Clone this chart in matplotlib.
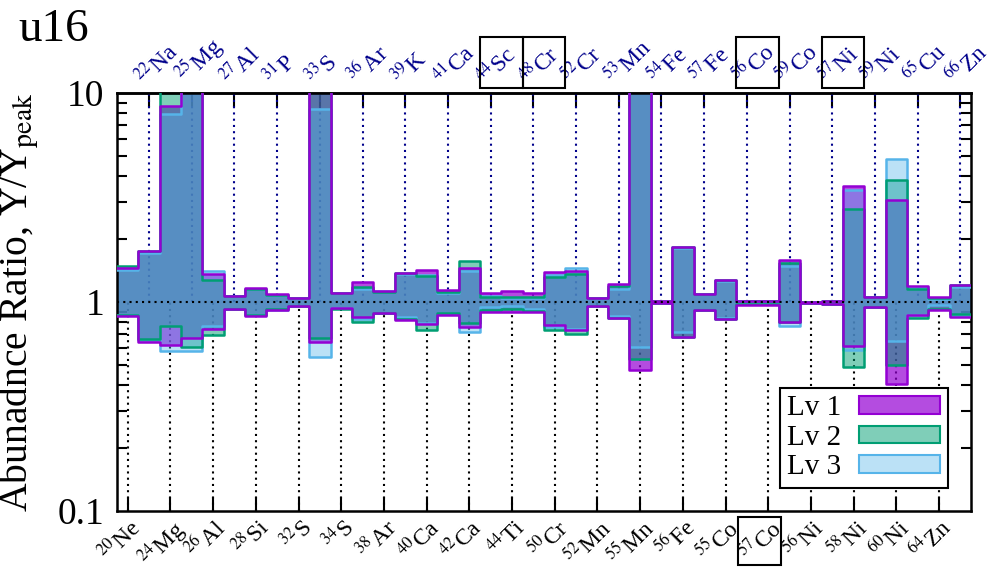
import re
import numpy as np
import matplotlib
matplotlib.use('Agg')
import matplotlib.pyplot as plt
from matplotlib.colors import to_rgba
from matplotlib.patches import Patch, Rectangle
import matplotlib.transforms as mtransforms

plt.rcParams['font.family'] = ['Liberation Serif', 'DejaVu Serif']
plt.rcParams['mathtext.fontset'] = 'stix'

# isotopes in plot order (even index -> bottom axis, odd index -> top axis)
isotopes = ['20Ne', '22Na', '24Mg', '25Mg', '26Al', '27Al', '28Si', '31P', '32S', '33S',
            '34S', '36Ar', '38Ar', '39K', '40Ca', '41Ca', '42Ca', '44Sc', '44Ti', '48Cr',
            '50Cr', '52Cr', '52Mn', '53Mn', '55Mn', '54Fe', '56Fe', '57Fe', '55Co', '56Co',
            '57Co', '59Co', '56Ni', '57Ni', '58Ni', '59Ni', '60Ni', '65Cu', '64Zn', '66Zn']
boxed = ['44Sc', '48Cr', '56Co', '57Ni', '57Co']

# Y/Y_peak ranges per level (values above 10 run off the top of the plot)
lv1_hi = [1.45, 1.76, 8.7, 15, 1.36, 1.07, 1.17, 1.09, 1.04, 15,
          1.10, 1.24, 1.13, 1.37, 1.43, 1.14, 1.45, 1.108, 1.13, 1.11,
          1.39, 1.41, 1.05, 1.22, 15, 1.01, 1.84, 1.09, 1.275, 1.015,
          1.013, 1.58, 1.005, 1.01, 3.6, 1.06, 3.06, 1.197, 1.06, 1.21]
lv1_lo = [0.86, 0.64, 0.62, 0.67, 0.74, 0.93, 0.857, 0.92, 0.953, 0.64,
          0.94, 0.845, 0.89, 0.82, 0.785, 0.866, 0.756, 0.898, 0.90, 0.895,
          0.776, 0.734, 0.957, 0.84, 0.472, 0.985, 0.68, 0.92, 0.826, 0.967,
          0.967, 0.805, 0.985, 0.98, 0.615, 0.95, 0.407, 0.866, 0.92, 0.85]
lv2_hi = [1.49, 1.76, 15, 15, 1.27, 1.07, 1.15, 1.08, 1.04, 15,
          1.10, 1.18, 1.12, 1.37, 1.33, 1.12, 1.57, 1.06, 1.06, 1.06,
          1.32, 1.36, 1.05, 1.19, 15, 1.01, 1.84, 1.09, 1.28, 1.01,
          1.01, 1.54, 1.005, 1.01, 2.78, 1.06, 3.82, 1.16, 1.05, 1.21]
lv2_lo = [0.87, 0.665, 0.77, 0.61, 0.695, 0.93, 0.87, 0.925, 0.953, 0.674,
          0.93, 0.805, 0.885, 0.83, 0.734, 0.89, 0.79, 0.92, 0.925, 0.91,
          0.734, 0.70, 0.957, 0.84, 0.533, 0.985, 0.68, 0.92, 0.83, 0.98,
          0.975, 0.805, 0.985, 0.98, 0.486, 0.95, 0.499, 0.835, 0.93, 0.88]
lv3_hi = [1.42, 1.71, 7.97, 15, 1.40, 1.07, 1.16, 1.085, 1.04, 8.4,
          1.10, 1.16, 1.13, 1.36, 1.34, 1.10, 1.41, 1.065, 1.05, 1.05,
          1.35, 1.45, 1.05, 1.16, 15, 1.005, 1.82, 1.09, 1.26, 1.01,
          1.01, 1.48, 1.005, 1.01, 3.44, 1.06, 4.83, 1.18, 1.03, 1.18]
lv3_lo = [0.87, 0.66, 0.585, 0.585, 0.77, 0.93, 0.865, 0.92, 0.953, 0.547,
          0.935, 0.83, 0.89, 0.85, 0.79, 0.88, 0.72, 0.95, 0.96, 0.93,
          0.76, 0.74, 0.957, 0.86, 0.61, 0.99, 0.72, 0.92, 0.84, 0.975,
          0.975, 0.767, 0.985, 0.98, 0.589, 0.95, 0.652, 0.87, 0.97, 0.86]

levels = [('Lv 1', lv1_lo, lv1_hi, '#9400d3', 0.7),
          ('Lv 2', lv2_lo, lv2_hi, '#009e73', 0.5),
          ('Lv 3', lv3_lo, lv3_hi, '#56b4e9', 0.4)]

fig = plt.figure(figsize=(9.96, 5.68), dpi=100)
ax = fig.add_axes([0.1175, 0.1004, 0.8575, 0.7359])

n = len(isotopes)
idx = np.arange(n)
even = idx[::2]
odd = idx[1::2]
dots = (0, (1, 2))

# guide lines: bottom isotopes below 1, top isotopes above 1
ax.vlines(even, 0.1, 1, colors='k', linestyles=dots, lw=1.5, zorder=1)
ax.vlines(odd, 1, 10, colors='#00008b', linestyles=dots, lw=1.5, zorder=1)

# step-shaped bands, one bin per isotope
bin_edges = np.arange(n + 1) - 0.5
xs = np.repeat(bin_edges, 2)[1:-1]
for name, lo, hi, col, a in levels:
    ax.fill_between(xs, np.repeat(lo, 2), np.repeat(hi, 2), color=col, alpha=a, lw=0, zorder=2)
for name, lo, hi, col, a in levels[::-1]:
    ax.plot(xs, np.repeat(hi, 2), color=col, lw=1.8, zorder=3)
    ax.plot(xs, np.repeat(lo, 2), color=col, lw=1.8, zorder=3)

ax.axhline(1, color='k', ls=dots, lw=1.5, zorder=4)

ax.set_yscale('log')
ax.set_ylim(0.1, 10)
ax.set_xlim(-0.5, n - 0.5)
ax.set_yticks([0.1, 1, 10], ['0.1', '1', '10'])
ax.yaxis.set_minor_formatter(matplotlib.ticker.NullFormatter())
ax.tick_params(axis='y', which='major', length=0, labelsize=27, pad=9)
ax.tick_params(axis='y', which='minor', length=7, width=1.5, direction='in', right=True)

# isotope names with superscript mass number as rotated tick labels
names = []
for iso in isotopes:
    mass, elem = re.match(r'(\d+)(\D+)', iso).groups()
    names.append('$^{%s}$%s' % (mass, elem))

ax.set_xticks(even, [names[i] for i in even], rotation=45, ha='right',
              rotation_mode='anchor', fontsize=17)
ax.tick_params(axis='x', which='major', length=10, width=1.5, direction='in', pad=3)

sec = ax.secondary_xaxis('top')
sec.set_xticks(odd, [names[i] for i in odd], rotation=45, ha='left',
               rotation_mode='anchor', fontsize=17, color='#00008b')
sec.tick_params(axis='x', length=10, width=1.5, direction='in', pad=2)

for sp in list(ax.spines.values()) + [sec.spines['top']]:
    sp.set_linewidth(1.8)

ax.set_ylabel('Abunadnce Ratio, Y/Y$_{\\rm peak}$', fontsize=28.5, labelpad=12)

# frames around selected labels
blend = mtransforms.blended_transform_factory(ax.transData, ax.transAxes)
for i, iso in enumerate(isotopes):
    if iso not in boxed:
        continue
    if i % 2:
        ax.add_patch(Rectangle((i - 0.5, 1.013), 2.0, 0.122, transform=blend,
                               fill=False, ec='k', lw=1.5, clip_on=False))
    else:
        ax.add_patch(Rectangle((i - 1.4, -0.129), 2.0, 0.115, transform=blend,
                               fill=False, ec='k', lw=1.5, clip_on=False))

handles = [Patch(facecolor=to_rgba(col, a), edgecolor=col, lw=1.5) for _, _, _, col, a in levels]
leg = ax.legend(handles, [lv[0] for lv in levels], loc='lower right', fontsize=21,
                markerfirst=False, handlelength=2.8, handleheight=0.55, fancybox=False,
                edgecolor='k', framealpha=1, labelspacing=0.12, handletextpad=0.6,
                borderpad=0.25, borderaxespad=0.8)
leg.get_frame().set_linewidth(1.5)
leg.set_zorder(5)

fig.text(0.018, 0.985, 'u16', fontsize=34, va='top', ha='left')

fig.savefig('out.png', dpi=100)
